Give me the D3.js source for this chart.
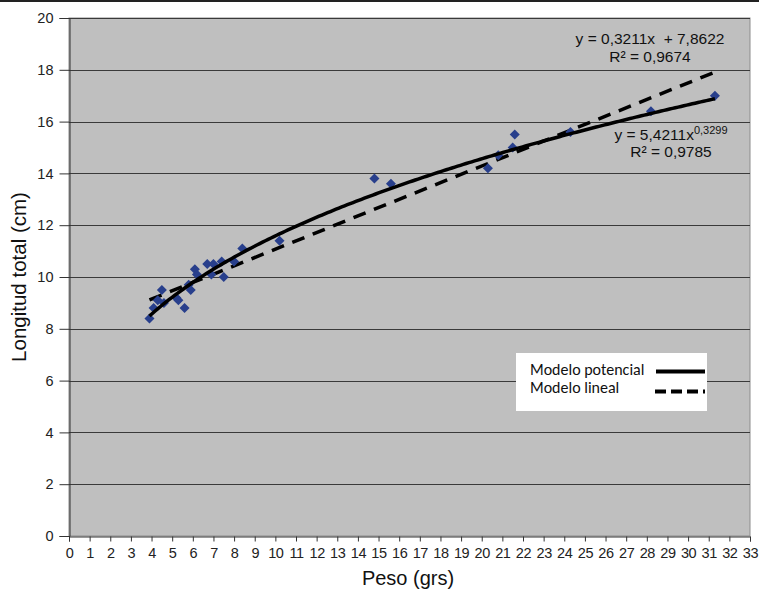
<!DOCTYPE html>
<html><head><meta charset="utf-8">
<script src="https://cdn.jsdelivr.net/npm/d3@7"></script>
<style>body{margin:0;background:#fff}svg{display:block}text{font-family:"Liberation Sans",Arial,sans-serif}</style>
</head><body>
<script>
const pesoX = [3.9,4.1,4.3,4.5,4.6,5.2,5.3,5.6,5.8,5.9,6.1,6.2,6.7,6.9,7.0,7.4,7.5,8.0,8.4,10.2,14.8,15.6,20.3,20.8,21.5,21.6,24.3,28.2,31.3];
const longY = [8.4,8.8,9.1,9.5,9.0,9.2,9.1,8.8,9.7,9.5,10.3,10.1,10.5,10.1,10.5,10.6,10.0,10.6,11.1,11.4,13.8,13.6,14.2,14.7,15.0,15.5,15.6,16.4,17.0];
const xTicks = d3.range(0,34,1);
const yTicks = [0,2,4,6,8,10,12,14,16,18,20];
const linA = 0.3211, linB = 7.8622;
const powA = 5.4211, powB = 0.3299;
const legendLabels = ["Modelo potencial","Modelo lineal"];

const W=759,H=592;
const svg=d3.select("body").append("svg").attr("width",W).attr("height",H);
const m={l:69,r:750,t:18,b:536};
const x=d3.scaleLinear().domain([0,33]).range([m.l,m.r]);
const y=d3.scaleLinear().domain([0,20]).range([m.b,m.t]);

svg.append("rect").attr("x",0).attr("y",0).attr("width",W).attr("height",2).attr("fill","#222");
svg.append("rect").attr("x",m.l).attr("y",m.t).attr("width",m.r-m.l).attr("height",m.b-m.t)
  .attr("fill","#bfbfbf").attr("stroke","#8c8c8c").attr("stroke-width",1);

svg.append("g").selectAll("line").data(yTicks.filter(d=>d>0)).join("line")
  .attr("x1",m.l).attr("x2",m.r).attr("y1",d=>Math.round(y(d))+0.5).attr("y2",d=>Math.round(y(d))+0.5)
  .attr("stroke","#3a3a3a").attr("stroke-width",1);

const yAxis=svg.append("g").attr("transform",`translate(${m.l+0.5},0)`)
  .call(d3.axisLeft(y).tickValues(yTicks).tickSize(10).tickPadding(6).tickFormat(d3.format("d")));
yAxis.selectAll("text").style("font-size","14.5px").attr("fill","#222");
yAxis.selectAll("line,path").attr("stroke","#333");

const xAxis=svg.append("g").attr("transform",`translate(0,${m.b+0.5})`)
  .call(d3.axisBottom(x).tickValues(xTicks).tickSize(5).tickPadding(6).tickFormat(d3.format("d")));
xAxis.selectAll("text").style("font-size","14.5px").attr("fill","#222").attr("letter-spacing","-0.4px");
xAxis.selectAll("line,path").attr("stroke","#333");

// trendlines
const xmin=d3.min(pesoX), xmax=d3.max(pesoX);
const xs=d3.range(xmin,xmax+0.0001,(xmax-xmin)/200);
const line=d3.line().x(d=>x(d[0])).y(d=>y(d[1]));
svg.append("path").datum([[xmin,linA*xmin+linB],[xmax,linA*xmax+linB]]).attr("d",line)
  .attr("fill","none").attr("stroke","#000").attr("stroke-width",3.5).attr("stroke-dasharray","13,9");

// points
svg.append("g").selectAll("path").data(pesoX.map((d,i)=>[d,longY[i]])).join("path")
  .attr("d",d3.symbol().type(d3.symbolDiamond2).size(64))
  .attr("transform",d=>`translate(${x(d[0])},${y(d[1])})`)
  .attr("fill","#283f8c");

svg.append("path").datum(xs.map(v=>[v,powA*Math.pow(v,powB)])).attr("d",line)
  .attr("fill","none").attr("stroke","#000").attr("stroke-width",3.5);

// equations
const eq=svg.append("g").style("font-size","15.5px").attr("fill","#111");
eq.append("text").attr("x",650).attr("y",44).attr("text-anchor","middle").attr("xml:space","preserve").text("y = 0,3211x  + 7,8622");
eq.append("text").attr("x",650).attr("y",62).attr("text-anchor","middle").text("R² = 0,9674");
const t=eq.append("text").attr("x",671).attr("y",140).attr("text-anchor","middle");
t.append("tspan").text("y = 5,4211x");
t.append("tspan").attr("dy",-6).style("font-size","11px").text("0,3299");
eq.append("text").attr("x",671).attr("y",157).attr("text-anchor","middle").text("R² = 0,9785");

// legend
const lg=svg.append("g");
lg.append("rect").attr("x",516).attr("y",353).attr("width",191).attr("height",58).attr("fill","#fff");
lg.selectAll("text").data(legendLabels).join("text")
  .attr("x",530).attr("y",(d,i)=>375+i*18).text(d=>d)
  .style("font-family","Carlito,Lato,sans-serif").style("font-size","16px").attr("fill","#111");
lg.append("line").attr("x1",656).attr("x2",705).attr("y1",371.5).attr("y2",371.5).attr("stroke","#000").attr("stroke-width",4);
lg.append("line").attr("x1",655).attr("x2",705).attr("y1",391.5).attr("y2",391.5).attr("stroke","#000").attr("stroke-width",4).attr("stroke-dasharray","11,5");

// axis titles
svg.append("text").attr("x",408).attr("y",585).attr("text-anchor","middle").style("font-size","20px").attr("fill","#111").text("Peso (grs)");
svg.append("text").attr("transform","translate(26,277) rotate(-90)").attr("text-anchor","middle").style("font-size","20.5px").attr("fill","#111").text("Longitud total (cm)");
</script>
</body></html>
